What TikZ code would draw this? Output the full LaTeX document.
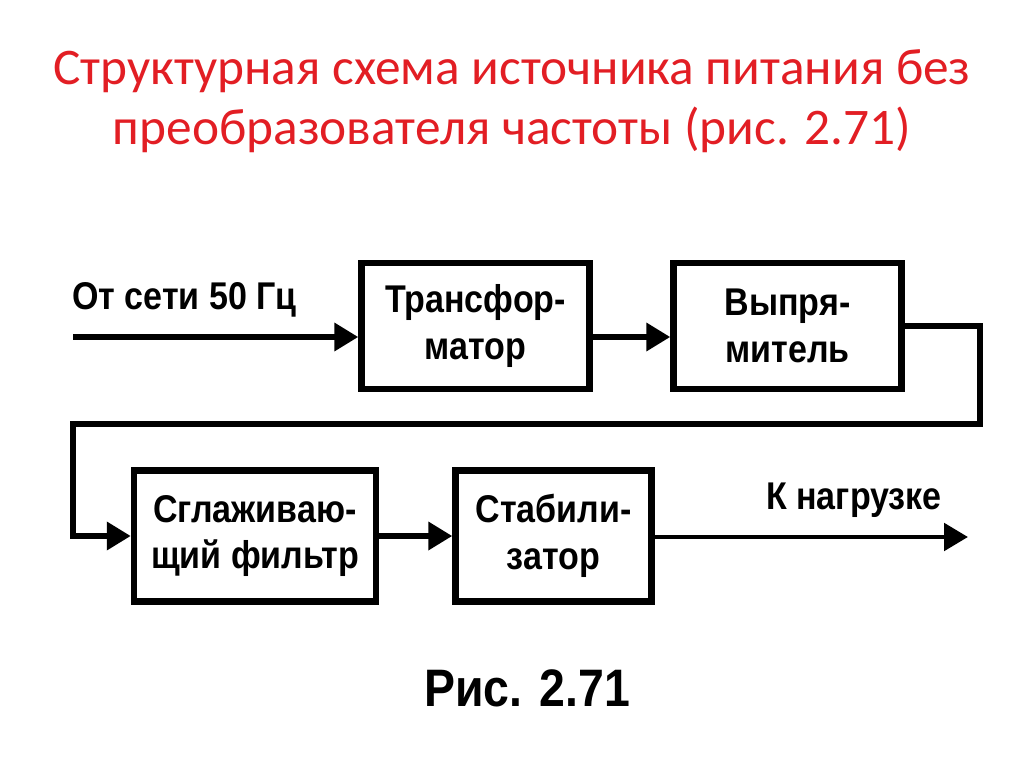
\documentclass[tikz,border=0pt]{standalone}
\usepackage{fontspec}
\setmainfont{Liberation Sans}
\newfontfamily\titlefont{Carlito}
\newfontfamily\blockfont[FakeStretch=0.88]{Liberation Sans}
\usetikzlibrary{arrows.meta}
\definecolor{titlered}{RGB}{226,30,36}

\begin{document}
\begin{tikzpicture}[x=0.025cm,y=-0.025cm,
	block/.style={draw,line width=4.5pt,minimum height=3.15cm,align=center,
		font=\blockfont\bfseries\fontsize{27.5}{33}\selectfont},
	lbl/.style={inner sep=0pt,font=\blockfont\bfseries\fontsize{27.5}{30}\selectfont},
	wire/.style={line width=4.5pt},
	feed/.style={wire,-{Triangle[length=0.6cm,width=0.68cm]}}]
	\useasboundingbox (0,0) rectangle (1024,767);
	% title
	\node[font=\titlefont\fontsize{36.5}{42.5}\selectfont,text=titlered,align=center] (title) at (512,101)
		{Структурная схема источника питания без\\преобразователя частоты (рис. 2.71)};
	% blocks
	\node[block,minimum width=5.7cm] (trans) at (475.5,326) {Трансфор-\\матор};
	\node[block,minimum width=5.7cm] (rect) at (787.5,326) {Выпря-\\митель};
	\node[block,minimum width=6.05cm,minimum height=3.28cm] (filt) at (255,536) {Сглаживаю-\\щий фильтр};
	\node[block,minimum width=4.9cm,minimum height=3.28cm] (stab) at (553.5,536) {Стабили-\\затор};
	% free ends and turns
	\coordinate (src) at (73,337);
	\coordinate (load) at (968,537);
	\coordinate (turnR) at (980,424);
	\coordinate (turnL) at (73,424);
	% connectors
	\draw[feed] (src) -- (src -| trans.west);
	\draw[feed] (trans.east |- src) -- (rect.west |- src);
	\draw[feed] (rect.east) -| (turnR) -- (turnL) |- (filt.west);
	\draw[feed] (filt) -- (stab);
	\draw[feed,line width=3.3pt] (stab.east |- load) -- (load);
	% labels
	\node[lbl,anchor=west] (srclbl) at (72,300) {От сети 50 Гц};
	\node[lbl,anchor=east] (loadlbl) at (942,500) {К нагрузке};
	\node[lbl,font=\blockfont\bfseries\fontsize{37.5}{40}\selectfont] (fig) at (527,688) {Рис. 2.71};
\end{tikzpicture}
\end{document}
